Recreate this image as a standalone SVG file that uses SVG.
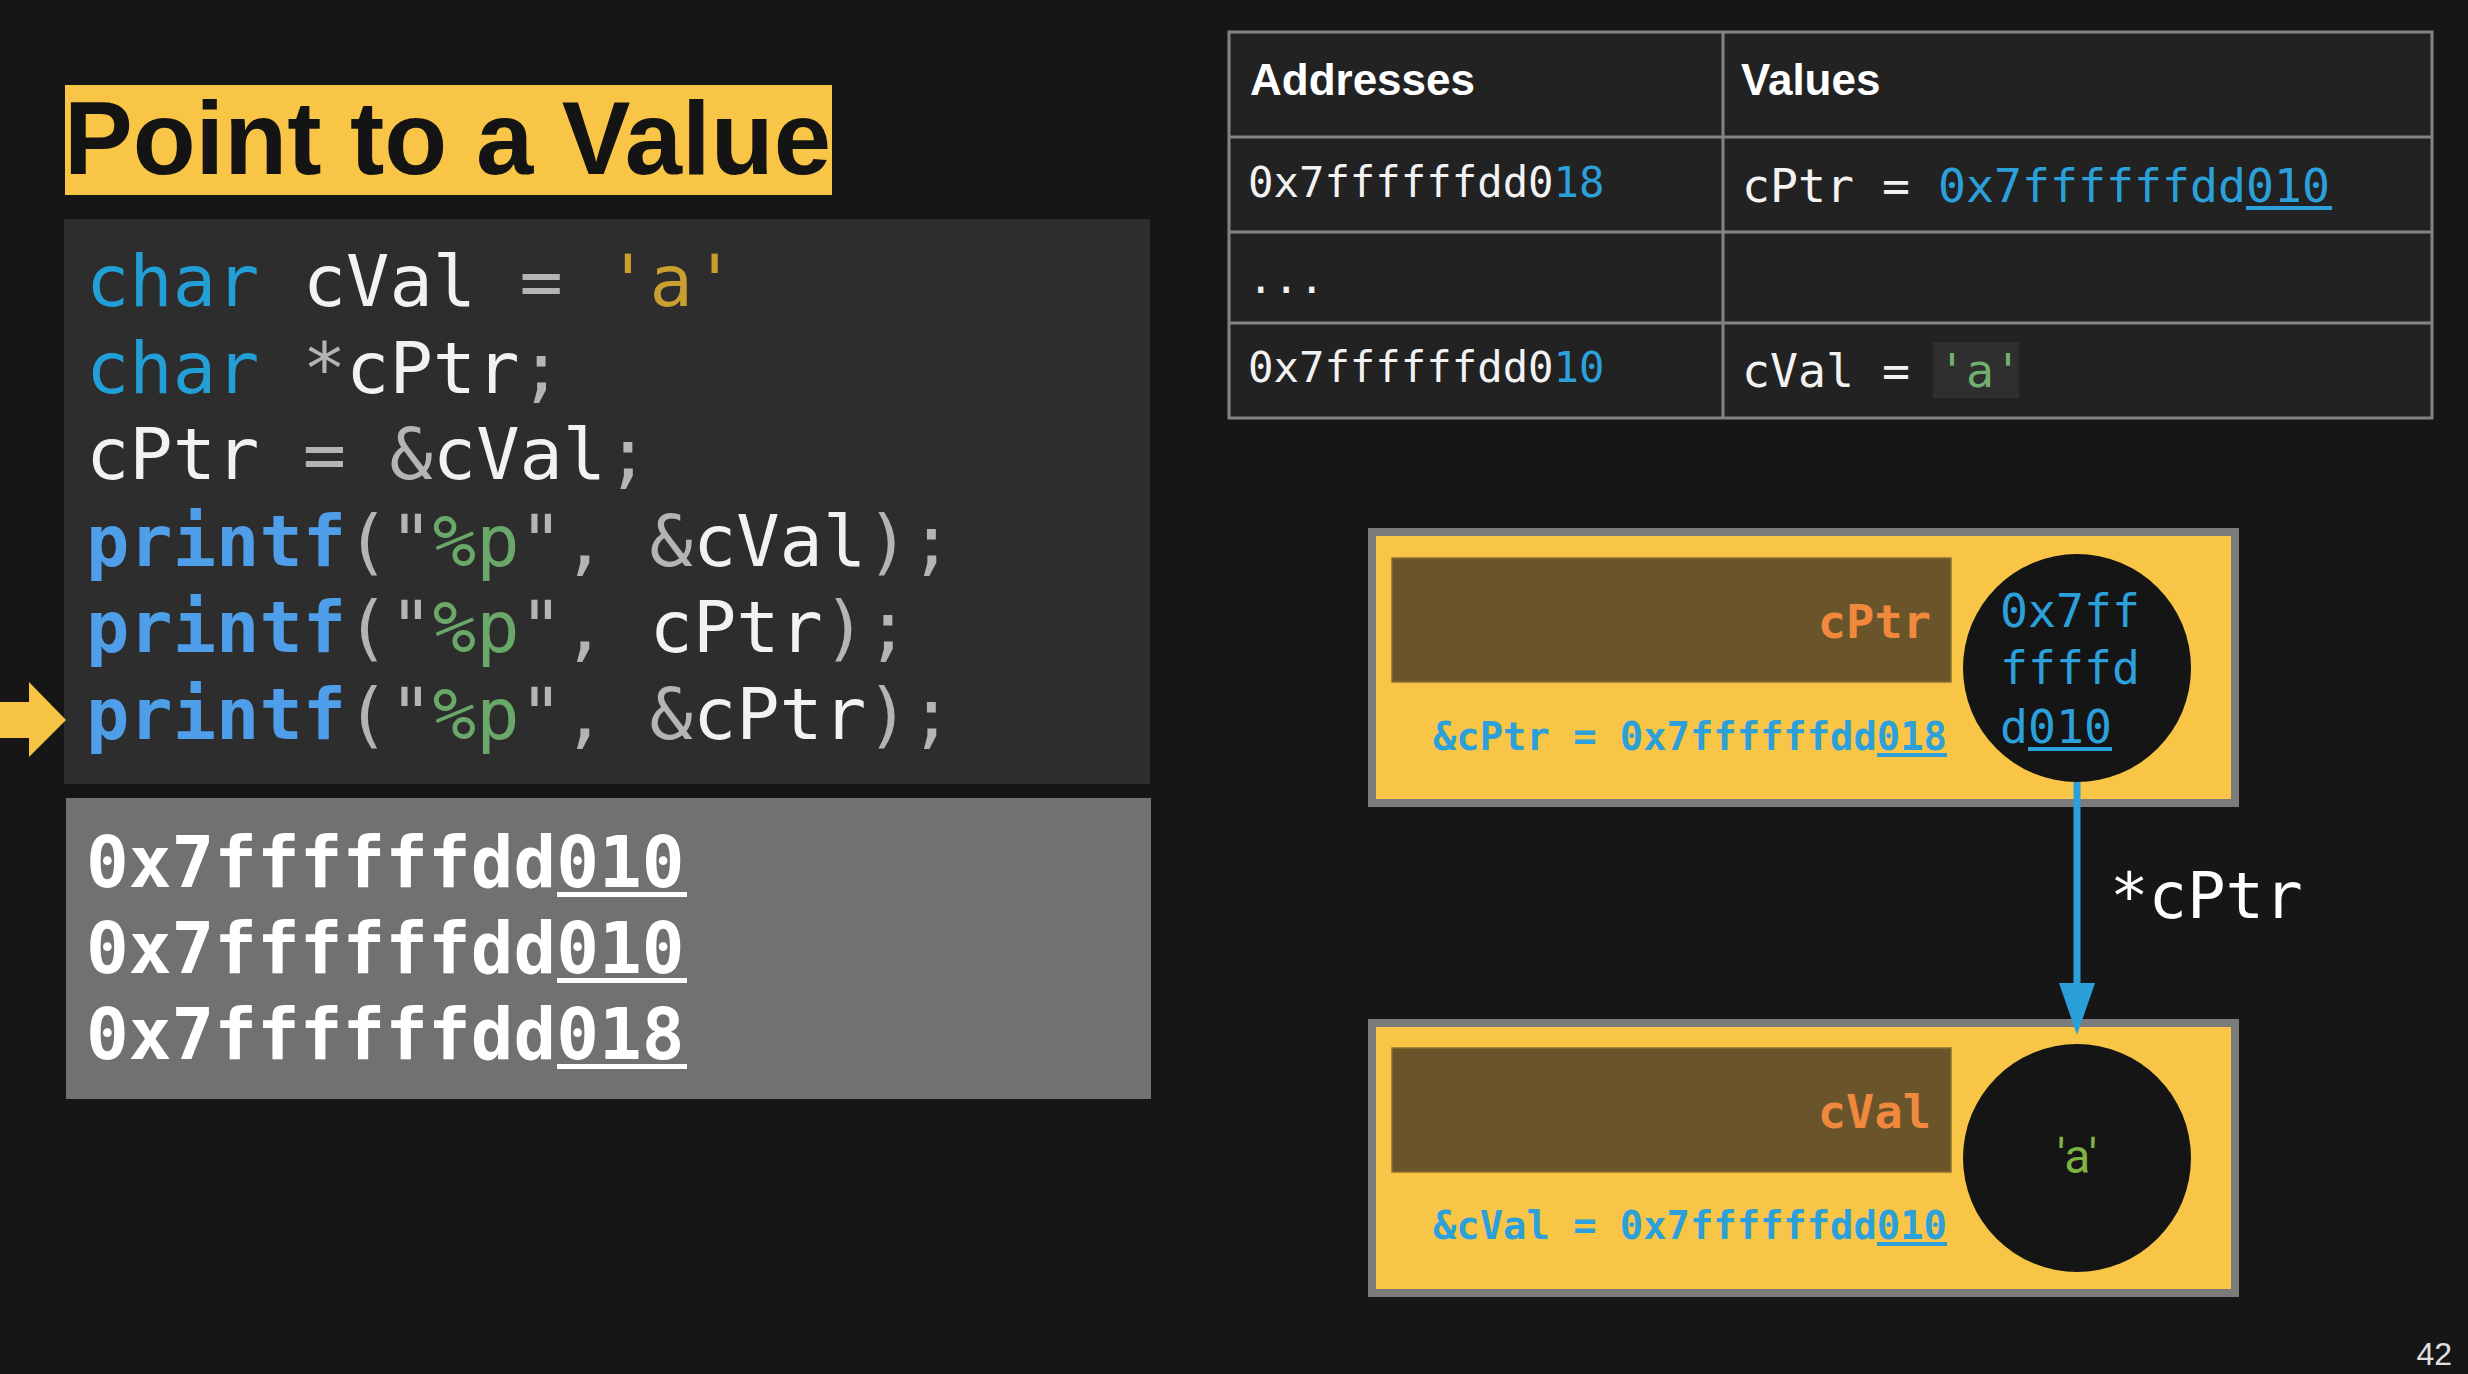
<svg xmlns="http://www.w3.org/2000/svg" width="2468" height="1374" viewBox="0 0 2468 1374">
<style>
.mono{font-family:"DejaVu Sans Mono","Liberation Mono",monospace;}
.sans{font-family:"Liberation Sans",Arial,sans-serif;}
.code{font-size:72px;fill:#f2f2f2;}
.b{font-weight:bold;}
.kw{fill:#239fd8;}
.fn{fill:#4f9ee9;font-weight:bold;}
.pun{fill:#b4b4b4;}
.str{fill:#6aa86a;}
.chr{fill:#c9a030;}
.wht{fill:#f2f2f2;}
.blue{fill:#2ba0da;}
.org{fill:#f0883e;}
.cell{fill:#222222;}
.grid{stroke:#838383;stroke-width:3;fill:none;}
.addr{font-size:42.3px;}
.val{font-size:46.5px;}
.node{fill:#f8c546;stroke:#7b7b7b;stroke-width:8;}
.lbl{fill:#6a552a;stroke:#8d7030;stroke-width:1.5;}
.dot{fill:#151515;}
</style>
<defs>
<marker id="ah" markerUnits="userSpaceOnUse" markerWidth="52" markerHeight="36" viewBox="0 0 52 36" refX="17" refY="18" orient="auto">
<path d="M0,0 L52,18 L0,36 z" fill="#2b9fd8"/>
</marker>
</defs>
<rect width="2468" height="1374" fill="#161616"/>

<g id="title">
<rect x="65" y="85" width="767" height="110" fill="#f8c546"/>
<text x="64" y="174" class="sans b" font-size="103" fill="#141414">Point to a Value</text>
</g>

<g id="code">
<rect x="64" y="219" width="1086" height="565" fill="#2d2d2d"/>
<text x="86" y="306" class="mono code" xml:space="preserve"><tspan class="kw">char</tspan> cVal <tspan class="pun">=</tspan> <tspan class="chr">'a'</tspan></text>
<text x="86" y="393" class="mono code" xml:space="preserve"><tspan class="kw">char</tspan> <tspan class="pun">*</tspan>cPtr<tspan class="pun">;</tspan></text>
<text x="86" y="479" class="mono code" xml:space="preserve">cPtr <tspan class="pun">=</tspan> <tspan class="pun">&amp;</tspan>cVal<tspan class="pun">;</tspan></text>
<text x="86" y="566" class="mono code" xml:space="preserve"><tspan class="fn">printf</tspan><tspan class="pun">("</tspan><tspan class="str">%p</tspan><tspan class="pun">",</tspan> <tspan class="pun">&amp;</tspan>cVal<tspan class="pun">);</tspan></text>
<text x="86" y="652" class="mono code" xml:space="preserve"><tspan class="fn">printf</tspan><tspan class="pun">("</tspan><tspan class="str">%p</tspan><tspan class="pun">",</tspan> cPtr<tspan class="pun">);</tspan></text>
<text x="86" y="739" class="mono code" xml:space="preserve"><tspan class="fn">printf</tspan><tspan class="pun">("</tspan><tspan class="str">%p</tspan><tspan class="pun">",</tspan> <tspan class="pun">&amp;</tspan>cPtr<tspan class="pun">);</tspan></text>
</g>

<g id="line-pointer">
<path d="M0,702 H29 V682 L66,720 L29,757 V738 H0 z" fill="#f6c342"/>
</g>

<g id="output">
<rect x="66" y="798" width="1085" height="301" fill="#717171"/>
<g class="mono b" font-size="71" fill="#ffffff">
<text x="86" y="887">0x7ffffffdd010</text>
<text x="86" y="973">0x7ffffffdd010</text>
<text x="86" y="1059">0x7ffffffdd018</text>
</g>
<g fill="#ffffff">
<rect x="557" y="892" width="130" height="5"/>
<rect x="557" y="978" width="130" height="5"/>
<rect x="557" y="1064" width="130" height="5"/>
</g>
</g>

<g id="table">
<rect x="1229" y="32" width="1203" height="386" class="cell"/>
<path class="grid" d="M1229,32 H2432 V418 H1229 z M1229,137 H2432 M1229,232 H2432 M1229,323 H2432 M1723,32 V418"/>
<text x="1250" y="95" class="sans b" font-size="44" fill="#ffffff">Addresses</text>
<text x="1741" y="95" class="sans b" font-size="44" fill="#ffffff">Values</text>
<text x="1248" y="197" class="mono addr wht" xml:space="preserve">0x7ffffffdd0<tspan class="blue">18</tspan></text>
<text x="1742" y="202" class="mono val wht" xml:space="preserve">cPtr = <tspan class="blue">0x7ffffffdd010</tspan></text>
<rect x="2246" y="206" width="86" height="4" fill="#2ba0da"/>
<text x="1248" y="293" class="mono addr wht">...</text>
<text x="1248" y="382" class="mono addr wht" xml:space="preserve">0x7ffffffdd0<tspan class="blue">10</tspan></text>
<rect x="1933" y="342" width="86" height="56" fill="#2f2f2f"/>
<text x="1742" y="387" class="mono val wht" xml:space="preserve">cVal = <tspan fill="#72b072">'a'</tspan></text>
</g>

<g id="node-cPtr">
<rect x="1372" y="532" width="863" height="271" class="node"/>
<rect x="1392" y="558" width="559" height="124" class="lbl"/>
<text x="1931" y="638" text-anchor="end" class="mono b org" font-size="47">cPtr</text>
<text x="1433" y="750" class="mono b blue" font-size="38.8">&amp;cPtr = 0x7ffffffdd018</text>
<rect x="1877" y="753" width="70" height="4" fill="#2ba0da"/>
<circle cx="2077" cy="668" r="114" class="dot"/>
<g class="mono blue" font-size="46.5">
<text x="2000" y="627">0x7ff</text>
<text x="2000" y="684">ffffd</text>
<text x="2000" y="743">d010</text>
</g>
<rect x="2028" y="747" width="84" height="4" fill="#2ba0da"/>
</g>

<g id="node-cVal">
<rect x="1372" y="1023" width="863" height="270" class="node"/>
<rect x="1392" y="1048" width="559" height="124" class="lbl"/>
<text x="1931" y="1128" text-anchor="end" class="mono b org" font-size="47">cVal</text>
<text x="1433" y="1239" class="mono b blue" font-size="38.8">&amp;cVal = 0x7ffffffdd010</text>
<rect x="1877" y="1242" width="70" height="4" fill="#2ba0da"/>
<circle cx="2077" cy="1158" r="114" class="dot"/>
<text x="2077" y="1173" text-anchor="middle" font-family="Roboto,'Liberation Sans',sans-serif" font-size="48" fill="#7cb342">'a'</text>
</g>

<g id="connectors">
<line x1="2077" y1="782" x2="2077" y2="1000" stroke="#2b9fd8" stroke-width="7" marker-end="url(#ah)"/>
<text x="2110" y="918" class="mono" font-size="64" fill="#ffffff">*cPtr</text>
</g>

<text x="2452" y="1365" text-anchor="end" class="sans" font-size="32" fill="#e0e0e0">42</text>
</svg>
